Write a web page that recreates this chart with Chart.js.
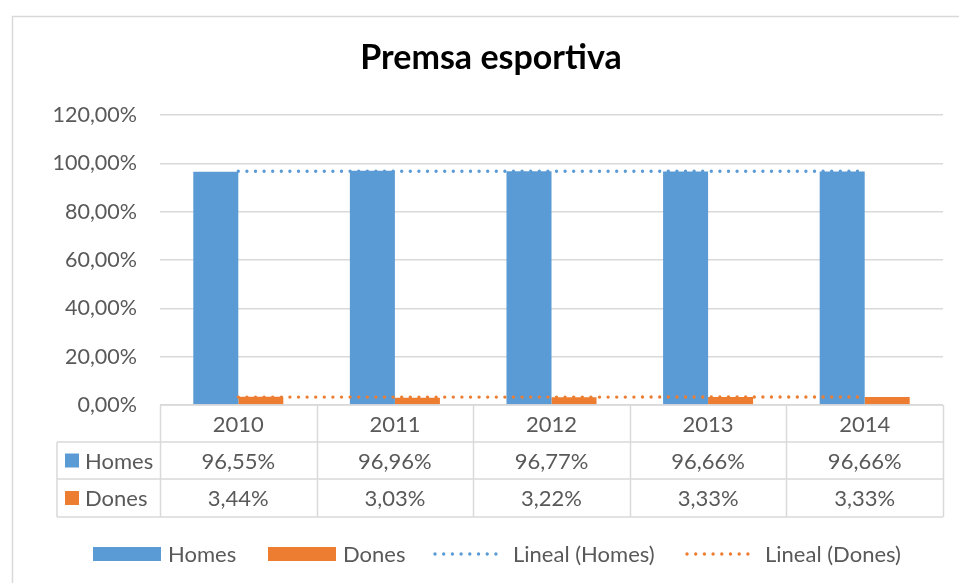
<!DOCTYPE html>
<html>
<head>
<meta charset="utf-8">
<script src="https://cdn.jsdelivr.net/npm/chart.js@4"></script>
<style>
  html, body { margin: 0; padding: 0; background: #fff; }
  #wrap { width: 959px; height: 583px; }
</style>
</head>
<body>
<div id="wrap"><canvas id="chart" width="959" height="583"></canvas></div>
<script>
const years = ['2010', '2011', '2012', '2013', '2014'];
const homes = [96.55, 96.96, 96.77, 96.66, 96.66];
const dones = [3.44, 3.03, 3.22, 3.33, 3.33];
// trend lines, ends
const trendHomes = [96.74, null, null, null, 96.70];
const trendDones = [3.26, null, null, null, 3.29];
const yTicks = [0, 20, 40, 60, 80, 100, 120];

const BLUE = '#5B9BD5';
const ORANGE = '#ED7D31';
const GREY = '#595959';
const LINE = '#d9d9d9';
const FONT = 'Lato, "Open Sans", sans-serif';

const pct = v => v.toFixed(2).replace('.', ',') + '%';

const frame = {
    id: 'frame',
    beforeDraw(chart) {
        const ctx = chart.ctx;
        ctx.save();
        ctx.fillStyle = '#fff';
        ctx.fillRect(0, 0, chart.width, chart.height);
        ctx.strokeStyle = LINE;
        ctx.lineWidth = 1.5;
        ctx.strokeRect(12.5, 16.5, chart.width, chart.height);
        ctx.restore();
    },
    afterDraw(chart) {
        const ctx = chart.ctx;
        const x = chart.scales.x;
        const area = chart.chartArea;
        const colW = (area.right - area.left) / years.length;
        const rows = [area.bottom, 442, 479, 517];
        const labelLeft = 57;

        ctx.save();
        // title
        ctx.fillStyle = '#000';
        ctx.font = 'bold 34px ' + FONT;
        ctx.textAlign = 'center';
        ctx.textBaseline = 'middle';
        ctx.fillText('Premsa esportiva', 491, 58);

        // data table
        ctx.strokeStyle = LINE;
        ctx.lineWidth = 1.5;
        ctx.beginPath();
        ctx.moveTo(area.left, rows[0]); ctx.lineTo(area.right, rows[0]);
        for (let r = 1; r < rows.length; r++) {
            ctx.moveTo(labelLeft, rows[r]); ctx.lineTo(area.right, rows[r]);
        }
        for (let i = 0; i <= years.length; i++) {
            const cx = Math.round(x.getPixelForValue(i) - colW / 2) + 0.5;
            ctx.moveTo(cx, rows[0]); ctx.lineTo(cx, rows[3]);
        }
        ctx.moveTo(labelLeft, rows[1]); ctx.lineTo(labelLeft, rows[3]);
        ctx.stroke();

        ctx.fillStyle = GREY;
        ctx.font = '22px ' + FONT;
        years.forEach((y, i) => {
            const cx = x.getPixelForValue(i);
            ctx.fillText(y, cx, (rows[0] + rows[1]) / 2 + 1);
            ctx.fillText(pct(homes[i]), cx, (rows[1] + rows[2]) / 2 + 1);
            ctx.fillText(pct(dones[i]), cx, (rows[2] + rows[3]) / 2 + 1);
        });

        const series = [['Homes', BLUE], ['Dones', ORANGE]];
        ctx.textAlign = 'left';
        series.forEach(([name, col], r) => {
            const cy = (rows[r + 1] + rows[r + 2]) / 2;
            ctx.fillStyle = col;
            ctx.fillRect(65, cy - 7, 14, 14);
            ctx.fillStyle = GREY;
            ctx.fillText(name, 85, cy + 1);
        });

        // legend
        const ly = 554;
        const items = [
            { text: 'Homes', col: BLUE, x0: 93, x1: 161, tx: 168, dot: false },
            { text: 'Dones', col: ORANGE, x0: 268, x1: 336, tx: 343, dot: false },
            { text: 'Lineal (Homes)', col: BLUE, x0: 435, x1: 499, tx: 513, dot: true },
            { text: 'Lineal (Dones)', col: ORANGE, x0: 687, x1: 752, tx: 765, dot: true }
        ];
        items.forEach(it => {
            if (it.dot) {
                ctx.strokeStyle = it.col;
                ctx.lineWidth = 3.4;
                ctx.lineCap = 'round';
                ctx.setLineDash([0, 8.7]);
                ctx.beginPath();
                ctx.moveTo(it.x0, ly); ctx.lineTo(it.x1, ly);
                ctx.stroke();
                ctx.setLineDash([]);
            } else {
                ctx.fillStyle = it.col;
                ctx.fillRect(it.x0, ly - 7, it.x1 - it.x0, 14);
            }
            ctx.fillStyle = GREY;
            ctx.fillText(it.text, it.tx, ly + 1);
        });
        ctx.restore();
    }
};

new Chart(document.getElementById('chart'), {
    data: {
        labels: years,
        datasets: [
            {
                type: 'line', label: 'Lineal (Homes)', data: trendHomes, spanGaps: true,
                borderColor: BLUE, borderWidth: 3.4, borderDash: [0, 8.6], borderCapStyle: 'round',
                pointRadius: 0, order: 0
            },
            {
                type: 'line', label: 'Lineal (Dones)', data: trendDones, spanGaps: true,
                borderColor: ORANGE, borderWidth: 3.4, borderDash: [0, 8.6], borderCapStyle: 'round',
                pointRadius: 0, order: 0
            },
            {
                type: 'bar', label: 'Homes', data: homes, backgroundColor: BLUE,
                categoryPercentage: 0.575, barPercentage: 1, order: 1
            },
            {
                type: 'bar', label: 'Dones', data: dones, backgroundColor: ORANGE,
                categoryPercentage: 0.575, barPercentage: 1, order: 1
            }
        ]
    },
    options: {
        responsive: false,
        animation: false,
        layout: { padding: { left: 0, top: 115, right: 16, bottom: 178 } },
        plugins: {
            legend: { display: false },
            title: { display: false },
            tooltip: { enabled: false }
        },
        scales: {
            x: { type: 'category', display: false, offset: true },
            y: {
                min: 0, max: 120,
                afterFit: s => { s.width = 160; },
                afterBuildTicks: s => { s.ticks = yTicks.map(v => ({ value: v })); },
                border: { display: false },
                grid: { color: LINE, lineWidth: 1.5, drawTicks: false },
                ticks: {
                    padding: 23, color: GREY,
                    font: { family: FONT, size: 21.5 },
                    callback: v => pct(v)
                }
            }
        }
    },
    plugins: [frame]
});
</script>
</body>
</html>
